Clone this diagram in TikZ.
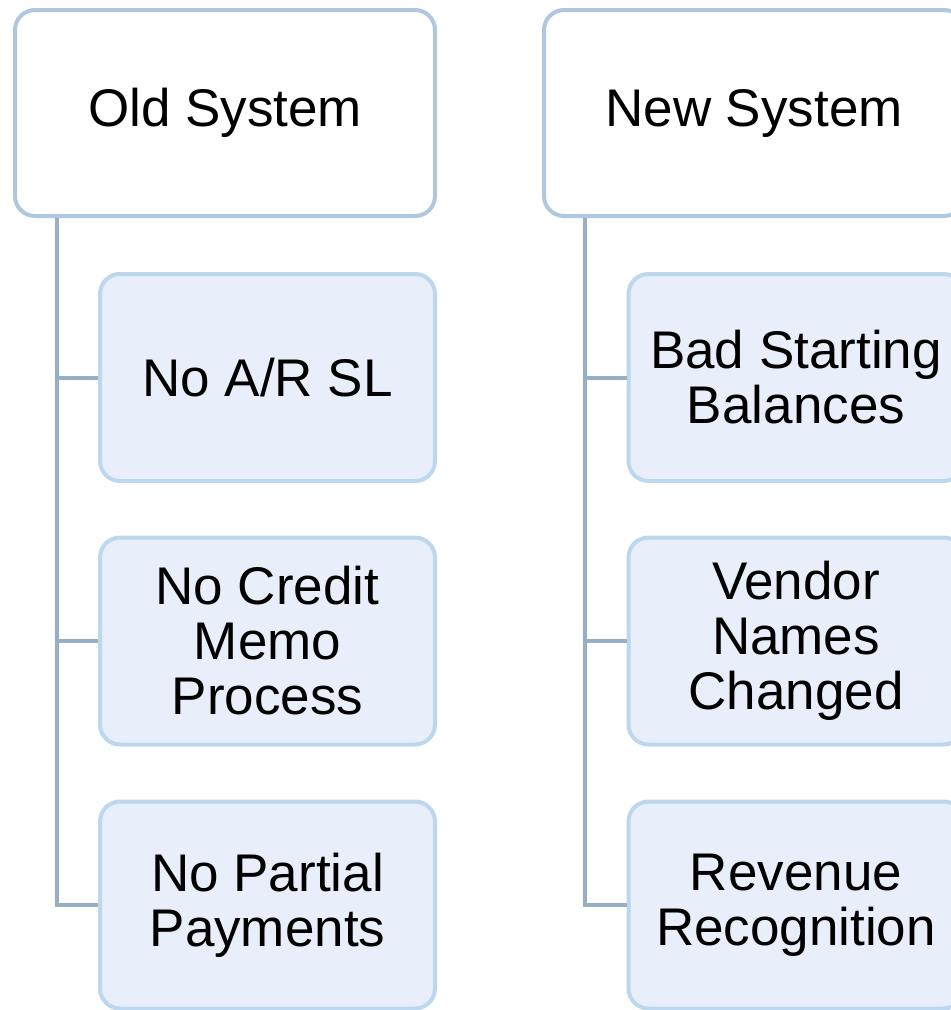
\documentclass[tikz,border=0pt]{standalone}
\usepackage{fontspec}
\setmainfont{Liberation Sans}
\begin{document}
\begin{tikzpicture}[x=1pt,y=-1pt,
  head node/.style={rectangle,rounded corners=20pt,draw=headline,fill=white,line width=4pt,
    minimum width=420pt,minimum height=206pt,align=center,font=\fontsize{53}{56}\selectfont},
  item node/.style={rectangle,rounded corners=20pt,draw=itemline,fill=itemfill,line width=4pt,
    minimum width=335pt,minimum height=207pt,align=center,font=\fontsize{53}{55}\selectfont},
  link/.style={draw=linkcol,line width=4pt}]
  \definecolor{headline}{HTML}{AFC7DF}
  \definecolor{itemline}{HTML}{BDD7EE}
  \definecolor{itemfill}{HTML}{E8EFFA}
  \definecolor{linkcol}{HTML}{98AEC4}
  \useasboundingbox (0,0) rectangle (951,1010);

  \node[head node] (old) at (225,113) {Old System};
  \node[head node] (new) at (754,113) {New System};

  \coordinate (oldspine) at (57,218);
  \coordinate (newspine) at (585,218);

  \node[item node] (o1) at (267.5,377.5) {No A/R SL};
  \node[item node] (o2) at (267.5,641) {No Credit\\Memo\\Process};
  \node[item node] (o3) at (267.5,905) {No Partial\\Payments};

  \node[item node] (n1) at (796,377.5) {Bad Starting\\Balances};
  \node[item node] (n2) at (796,641) {Vendor\\Names\\Changed};
  \node[item node] (n3) at (796,905) {Revenue\\Recognition};

  \path[link]
   (oldspine) |- (o1.west)
   (oldspine) |- (o2.west)
   (oldspine) |- (o3.west)
   (newspine) |- (n1.west)
   (newspine) |- (n2.west)
   (newspine) |- (n3.west);
\end{tikzpicture}
\end{document}
